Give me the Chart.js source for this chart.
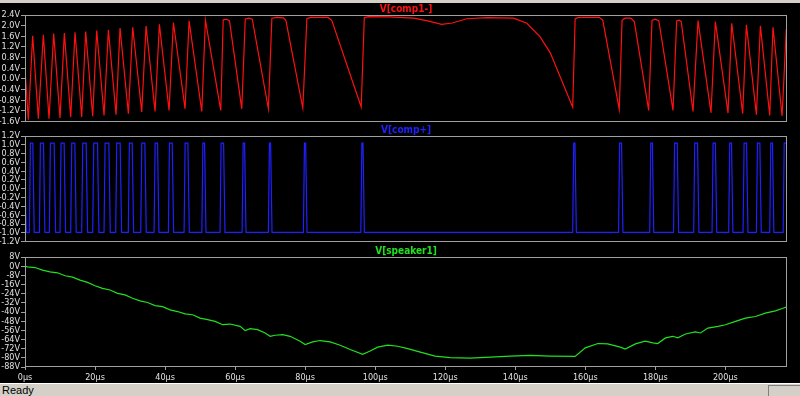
<!DOCTYPE html>
<html>
<head>
<meta charset="utf-8">
<script src="https://cdn.jsdelivr.net/npm/chart.js@4.4.1/dist/chart.umd.min.js"></script>
<style>
  body { margin: 0; background: #000; width: 800px; height: 396px; overflow: hidden; position: relative; }
  #topbar { position: absolute; left: 0; top: 0; width: 800px; height: 3px; background: #d4d0c8; }
  canvas { position: absolute; left: 0; }
  #status { position: absolute; left: 0; top: 383px; width: 800px; height: 13px; background: #d4d0c8;
            border-top: 1px solid #fff; box-sizing: border-box; font: 11px "Liberation Sans", sans-serif; color: #000; }
  #status span { position: absolute; left: 2px; top: 0px; }
  #grip { position: absolute; right: 0; top: 1px; width: 32px; height: 11px; border-left: 1px solid #808080; border-top: 1px solid #808080; box-sizing: border-box; }
</style>
</head>
<body>
<div id="topbar"></div>
<canvas id="c1" width="800" height="125" style="top:3px"></canvas>
<canvas id="c2" width="800" height="124" style="top:124px"></canvas>
<canvas id="c3" width="800" height="138" style="top:245px"></canvas>
<div id="status"><span>Ready</span><div id="grip"></div></div>
<script>
// temps de fin de simulation (µs)
const tMax = 217.6;

// V[comp1-] : sommets de la forme d'onde (µs, V)
const comp1T = [0, 0.95, 2.19, 3.81, 5.24, 6.86, 8.19, 10.0, 11.24, 13.05, 14.29, 16.19, 17.33, 19.33, 20.48,
  22.57, 23.81, 26.0, 27.14, 29.52, 30.76, 33.33, 34.57, 37.14, 38.38, 41.14, 42.38, 45.71, 46.86, 50.48, 51.52,
  55.9, 56.6, 57.6, 58.4, 61.9, 62.9, 63.8, 64.9, 69.5, 70.5, 72.0, 73.8, 74.5, 79.33, 80.5, 81.5, 86.5, 87.6,
  96.0, 96.9, 98.0, 104.0, 111.0, 115.0, 119.0, 122.0, 126.2, 132.0, 139.5, 143.3, 147.1, 150.0, 156.4,
  157.1, 158.0, 164.0, 165.0, 169.7, 170.5, 171.3, 173.0, 174.0, 178.1, 179.05, 180.0, 181.0, 185.05, 186.1,
  186.8, 187.4, 190.76, 192.19, 195.9, 197.14, 200.76, 201.81, 204.95, 206.0, 208.86, 210.0, 212.67, 213.6,
  216.2, 217.4];
const comp1V = [0.35, -1.53, 1.62, -1.49, 1.66, -1.49, 1.70, -1.46, 1.72, -1.43, 1.75, -1.43, 1.78, -1.40, 1.82,
  -1.37, 1.84, -1.34, 1.91, -1.30, 1.94, -1.24, 1.99, -1.22, 2.05, -1.18, 2.12, -1.12, 2.18, -1.22, 2.21,
  -1.18, 2.22, 2.24, 2.18, -1.12, 2.24, 2.28, 2.24, -1.12, 2.28, 2.31, 2.29, 2.20, -1.09, 2.26, 2.31, 2.31, 2.20,
  -1.05, 2.30, 2.34, 2.33, 2.28, 2.18, 2.05, 2.10, 2.26, 2.30, 2.28, 2.09, 1.58, 0.98, -1.06,
  2.25, 2.31, 2.31, 2.20, -1.14, 2.20, 2.28, 2.28, 2.15, -1.18, 2.20, 2.24, 2.18, -1.18, 2.18,
  2.21, 2.15, -1.22, 2.19, -1.27, 2.15, -1.28, 2.09, -1.30, 2.03, -1.34, 1.99, -1.37, 1.94,
  -1.39, 1.87];

// V[comp+] : fronts montants / descendants des impulsions (µs)
const compRise = [1.24, 4.1, 6.95, 10.0, 13.05, 16.19, 19.33, 22.57, 25.9, 29.5, 33.05, 36.86, 40.95, 45.43,
  50.5, 55.7, 62.0, 69.5, 79.5, 95.9, 156.4, 169.5, 178.4, 185.2, 190.95, 196.2, 200.95, 205.05, 208.86,
  212.67, 216.5];
const compFall = [2.38, 5.43, 8.48, 11.33, 14.38, 17.62, 20.86, 24.1, 27.33, 30.76, 34.38, 38.0, 42.19, 46.67,
  51.43, 56.86, 62.86, 70.29, 80.29, 96.67, 157.2, 170.5, 179.3, 186.4, 192.2, 197.3, 201.9, 206.2, 210.0,
  213.6];
const compStart = 0.05;
const compHigh = 1.04;
const compLow = -0.99;

// V[speaker1] (µs, V)
const speakerT = [0, 0.71, 2.86, 5.0, 7.14, 9.29, 11.43, 13.57, 15.71, 17.86, 20.0, 22.14, 24.29, 26.43, 28.57,
  30.71, 32.86, 35.0, 37.14, 39.29, 41.43, 43.57, 45.71, 47.86, 50.0, 52.14, 54.29, 56.43, 58.57, 61.43, 62.86,
  64.29, 66.43, 68.57, 70.0, 71.43, 73.57, 75.71, 78.57, 80.0, 82.14, 84.29, 87.14, 90.0, 92.86, 96.43, 98.57,
  100.7, 103.6, 106.4, 109.3, 112.9, 117.1, 121.4, 127.1, 132.9, 138.6, 144.3, 150.0, 157.1, 160.0, 163.6,
  166.4, 170.0, 171.4, 174.3, 177.1, 179.3, 180.7, 182.9, 185.0, 186.4, 188.6, 191.4, 192.9, 195.0, 197.9,
  200.0, 202.9, 205.7, 208.6, 211.4, 214.3, 216.4, 217.6];
const speakerV = [0, -0.6, -1.2, -3.5, -5.0, -5.8, -8.4, -9.6, -12.2, -14.2, -17.1, -19.4, -20.8, -23.7, -25.1,
  -28.0, -30.3, -31.7, -34.4, -35.3, -38.1, -39.6, -41.6, -42.4, -45.3, -46.7, -48.2, -51.1, -50.5, -52.5, -56.3,
  -54.5, -55.4, -58.3, -61.2, -60.3, -59.7, -61.2, -65.5, -68.4, -66.1, -64.9, -66.1, -69.0, -72.7, -77.0, -74.1,
  -70.7, -69.0, -69.9, -71.9, -75.0, -78.5, -79.9, -80.2, -79.3, -78.5, -77.9, -78.5, -78.8, -71.3, -67.5,
  -67.8, -70.7, -72.4, -67.8, -65.5, -66.9, -67.5, -62.6, -61.2, -62.6, -59.2, -57.4, -58.3, -54.0, -52.5,
  -51.1, -48.2, -45.3, -43.9, -41.0, -39.0, -36.7, -35.5];

// graduations
const comp1Ticks = [2.4, 2.0, 1.6, 1.2, 0.8, 0.4, 0.0, -0.4, -0.8, -1.2, -1.6];
const compTicks = [1.2, 1.0, 0.8, 0.6, 0.4, 0.2, 0.0, -0.2, -0.4, -0.6, -0.8, -1.0, -1.2];
const speakerTicks = [8, 0, -8, -16, -24, -32, -40, -48, -56, -64, -72, -80, -88];
const timeTicks = [0, 20, 40, 60, 80, 100, 120, 140, 160, 180, 200];

const gridColor = '#a0a0a0';
const labelColor = '#e0e0e0';
const tickFont = { family: '"DejaVu Sans Condensed", "DejaVu Sans", sans-serif', size: 9 };

// cadre autour de la zone de tracé
const boxPlugin = {
  id: 'box',
  afterDraw(chart) {
    const a = chart.chartArea, c = chart.ctx;
    c.save();
    c.strokeStyle = gridColor;
    c.lineWidth = 1;
    c.strokeRect(Math.round(a.left) + 0.5, Math.round(a.top) + 0.5,
      Math.round(a.right - a.left) - 1, Math.round(a.bottom - a.top) - 1);
    c.restore();
  }
};

function pairs(xs, ys) {
  return xs.map((x, i) => ({ x: x, y: ys[i] }));
}

function comparatorPoints() {
  const pts = [{ x: 0, y: compStart }, { x: 0.4, y: compLow }];
  compRise.forEach((r, i) => {
    pts.push({ x: r, y: compLow }, { x: r + 0.3, y: compHigh });
    const f = compFall[i];
    if (f !== undefined) {
      pts.push({ x: f - 0.15, y: compHigh }, { x: f + 0.25, y: compLow });
    } else {
      pts.push({ x: tMax, y: compHigh });
    }
  });
  return pts;
}

function makeChart(id, title, color, data, yTicks, fmt, showX) {
  const ctx = document.getElementById(id).getContext('2d');
  const xScale = {
    type: 'linear',
    min: 0,
    max: tMax,
    display: showX,
    afterBuildTicks: s => { s.ticks = timeTicks.map(v => ({ value: v })); },
    border: { display: false },
    grid: { drawOnChartArea: false, drawTicks: true, tickLength: 3, color: gridColor },
    ticks: { color: labelColor, font: tickFont, padding: 2, maxRotation: 0, autoSkip: false, callback: v => v + 'µs' }
  };
  if (showX) xScale.afterFit = s => { s.height = 16; };
  return new Chart(ctx, {
    type: 'scatter',
    data: {
      datasets: [{
        data: data,
        showLine: true,
        borderColor: color,
        borderWidth: 1.2,
        pointRadius: 0,
        tension: 0
      }]
    },
    options: {
      responsive: false,
      animation: false,
      devicePixelRatio: 1,
      layout: { padding: { left: 0, right: 13, top: 0, bottom: showX ? 0 : 5 } },
      plugins: {
        legend: { display: false },
        tooltip: { enabled: false },
        title: {
          display: true,
          text: title,
          color: color,
          fullSize: false,
          padding: 0,
          font: { family: '"DejaVu Sans Condensed", "DejaVu Sans", sans-serif', size: 10, weight: 'bold', lineHeight: 1.2 }
        }
      },
      scales: {
        x: xScale,
        y: {
          min: yTicks[yTicks.length - 1],
          max: yTicks[0],
          afterBuildTicks: s => { s.ticks = yTicks.map(v => ({ value: v })); },
          afterFit: s => { s.width = 25; },
          border: { display: true, color: gridColor },
          grid: { drawOnChartArea: false, drawTicks: true, tickLength: 4, color: gridColor },
          ticks: { color: labelColor, font: tickFont, padding: 1, autoSkip: false, callback: fmt }
        }
      }
    },
    plugins: [boxPlugin]
  });
}

const fmt1 = v => (Math.abs(v) < 1e-9 ? 0 : v).toFixed(1) + 'V';
const fmt0 = v => Math.round(v) + 'V';

makeChart('c1', 'V[comp1-]', '#ff1010', pairs(comp1T, comp1V), comp1Ticks, fmt1, false);
makeChart('c2', 'V[comp+]', '#2020ff', comparatorPoints(), compTicks, fmt1, false);
makeChart('c3', 'V[speaker1]', '#20e020', pairs(speakerT, speakerV), speakerTicks, fmt0, true);
</script>
</body>
</html>
